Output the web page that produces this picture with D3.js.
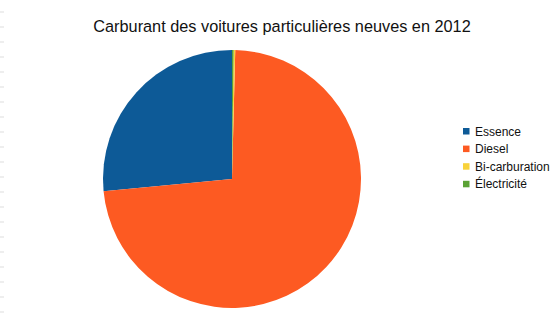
<!DOCTYPE html>
<html><head><meta charset="utf-8">
<script src="https://cdn.jsdelivr.net/npm/d3@7"></script>
<style>html,body{margin:0;padding:0;background:#fff;}svg{display:block;}</style>
</head><body>
<script>
const title = "Carburant des voitures particulières neuves en 2012";
const categories = ["Essence", "Diesel", "Bi-carburation", "Électricité"];
const values = [26.5, 73.1, 0.2, 0.2];
const colors = ["#0d5a97", "#fd5a22", "#f8d23a", "#5ba235"];

const W = 560, H = 313;
const svg = d3.select("body").append("svg").attr("width", W).attr("height", H);

// faint ruler marks on the left edge
d3.range(12, H, 15).forEach(y => {
  svg.append("line").attr("x1", 0).attr("x2", 4).attr("y1", y).attr("y2", y)
    .attr("stroke", "#dddddd").attr("stroke-width", 1);
});

svg.append("text").attr("x", 282).attr("y", 32).attr("text-anchor", "middle")
  .attr("font-family", "Liberation Sans, Arial, sans-serif").attr("font-size", 16.3)
  .attr("fill", "#111").text(title);

const data = categories.map((c, i) => ({cat: c, value: values[i], color: colors[i]}));
const pie = d3.pie().sort(null).value(d => d.value)
  .startAngle(0).endAngle(-2 * Math.PI);
const arc = d3.arc().innerRadius(0).outerRadius(129);
const g = svg.append("g").attr("transform", "translate(232,179)");
g.selectAll("path").data(pie(data)).join("path")
  .attr("d", arc).attr("fill", d => d.data.color);

const leg = svg.append("g").attr("transform", "translate(463,128)");
const rows = leg.selectAll("g").data(data).join("g")
  .attr("transform", (d, i) => `translate(0,${i * 17.6})`);
rows.append("rect").attr("width", 6.5).attr("height", 6.5).attr("fill", d => d.color);
rows.append("text").attr("x", 12).attr("y", 7.5)
  .attr("font-family", "Liberation Sans, Arial, sans-serif").attr("font-size", 12)
  .attr("fill", "#111").text(d => d.cat);
</script>
</body></html>
